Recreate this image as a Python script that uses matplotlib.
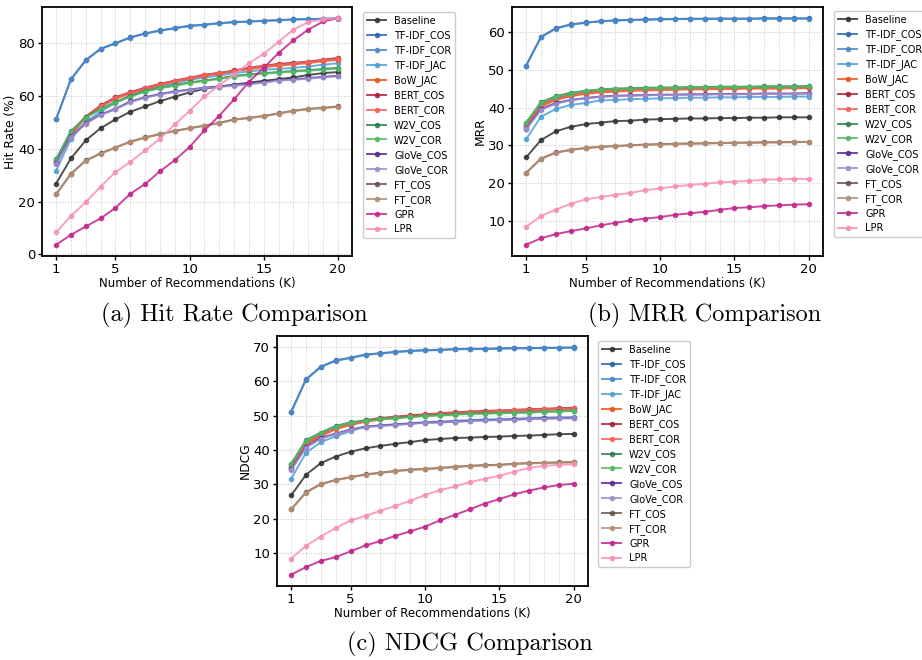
import matplotlib
matplotlib.use('Agg')
import matplotlib.pyplot as plt
from matplotlib.ticker import MultipleLocator, FixedLocator

# K values
k_values = list(range(1, 21))

method_names = ['Baseline', 'TF-IDF_COS', 'TF-IDF_COR', 'TF-IDF_JAC', 'BoW_JAC',
                'BERT_COS', 'BERT_COR', 'W2V_COS', 'W2V_COR', 'GloVe_COS',
                'GloVe_COR', 'FT_COS', 'FT_COR', 'GPR', 'LPR']
method_colors = ['#333333', '#2a66ae', '#4a88c8', '#4f9fd6', '#e8561c',
                 '#b01f35', '#f4655a', '#2e8050', '#55b865', '#5a2a96',
                 '#9890cc', '#6b5350', '#b58e72', '#c2268a', '#f78fb8']

# Hit Rate (%)
hr_baseline = [26.8, 36.3, 43.1, 47.7, 51.0, 53.9, 55.9, 57.9, 59.6, 61.2, 62.6, 63.4, 64.1, 64.9, 65.6, 66.2, 66.9, 67.8, 68.5, 68.9]
hr_tfidf_cos = [51.1, 66.2, 73.4, 77.7, 79.8, 82.0, 83.5, 84.6, 85.5, 86.4, 86.8, 87.4, 87.8, 88.0, 88.3, 88.5, 88.8, 88.9, 89.0, 89.2]
hr_tfidf_cor = [51.1, 66.1, 73.3, 77.6, 79.7, 81.9, 83.4, 84.5, 85.4, 86.3, 86.7, 87.3, 87.7, 87.9, 88.2, 88.5, 88.7, 88.9, 89.0, 89.1]
hr_tfidf_jac = [31.6, 43.7, 50.0, 54.0, 57.2, 60.0, 62.0, 63.5, 64.6, 66.0, 66.8, 67.6, 68.5, 69.1, 69.8, 70.1, 70.5, 71.0, 71.7, 72.2]
hr_bow_jac = [34.8, 45.2, 51.6, 55.8, 58.8, 60.8, 62.5, 64.0, 65.3, 66.4, 67.5, 68.3, 69.2, 70.0, 70.7, 71.3, 71.8, 72.3, 73.0, 73.5]
hr_bert_cos = [35.3, 45.8, 52.1, 56.3, 59.4, 61.3, 63.0, 64.4, 65.7, 66.8, 67.9, 68.6, 69.5, 70.5, 71.3, 72.0, 72.4, 72.8, 73.6, 74.2]
hr_bert_cor = [35.1, 45.6, 51.9, 56.0, 59.1, 61.0, 62.8, 64.2, 65.5, 66.6, 67.7, 68.5, 69.3, 70.2, 71.0, 71.6, 72.1, 72.6, 73.3, 73.8]
hr_w2v_cos = [36.0, 46.6, 51.9, 55.0, 57.6, 59.8, 61.7, 63.0, 63.9, 65.0, 65.7, 66.5, 67.5, 68.0, 68.5, 68.9, 69.3, 69.6, 70.1, 70.5]
hr_w2v_cor = [35.8, 46.4, 51.7, 54.8, 57.4, 59.6, 61.5, 62.8, 63.7, 64.8, 65.5, 66.3, 67.2, 67.8, 68.3, 68.7, 69.1, 69.4, 69.8, 70.2]
hr_glove_cos = [34.4, 44.6, 49.6, 52.9, 55.0, 57.8, 59.4, 60.6, 61.6, 62.3, 63.0, 63.5, 64.0, 64.5, 65.1, 65.9, 66.2, 66.6, 67.1, 67.5]
hr_glove_cor = [34.2, 44.3, 49.4, 52.7, 54.8, 57.5, 59.2, 60.4, 61.4, 62.1, 62.8, 63.3, 63.8, 64.3, 64.9, 65.7, 66.0, 66.4, 66.9, 67.3]
hr_ft_cos = [22.7, 30.5, 35.5, 38.2, 40.4, 42.6, 44.2, 45.5, 46.7, 47.7, 48.7, 49.7, 51.0, 51.6, 52.3, 53.3, 54.3, 55.0, 55.4, 55.9]
hr_ft_cor = [22.7, 30.4, 35.4, 38.1, 40.3, 42.5, 44.1, 45.4, 46.6, 47.6, 48.6, 49.6, 50.9, 51.5, 52.2, 53.2, 54.2, 54.9, 55.3, 55.7]
hr_gpr = [3.7, 7.4, 10.6, 13.6, 17.6, 22.9, 26.6, 31.4, 35.6, 40.6, 46.9, 52.4, 58.6, 65.2, 70.5, 76.1, 80.9, 84.9, 88.0, 89.2]
hr_lpr = [8.4, 14.5, 19.8, 25.6, 31.1, 34.9, 39.3, 43.7, 49.1, 54.2, 59.7, 63.9, 68.0, 72.2, 75.8, 80.4, 84.9, 87.8, 88.8, 89.2]

# MRR
mrr_baseline = [26.8, 31.4, 33.7, 34.9, 35.6, 36.0, 36.4, 36.5, 36.8, 36.9, 37.0, 37.1, 37.1, 37.2, 37.2, 37.3, 37.3, 37.4, 37.4, 37.4]
mrr_tfidf_cos = [51.1, 58.7, 61.0, 62.0, 62.5, 62.8, 63.1, 63.2, 63.3, 63.4, 63.4, 63.5, 63.5, 63.5, 63.5, 63.5, 63.6, 63.6, 63.6, 63.6]
mrr_tfidf_cor = [51.1, 58.6, 60.9, 61.9, 62.4, 62.8, 63.0, 63.1, 63.2, 63.3, 63.4, 63.4, 63.4, 63.5, 63.5, 63.5, 63.5, 63.5, 63.5, 63.5]
mrr_tfidf_jac = [31.6, 37.6, 39.6, 40.7, 41.2, 41.9, 42.0, 42.2, 42.3, 42.4, 42.5, 42.6, 42.6, 42.7, 42.7, 42.8, 42.8, 42.8, 42.9, 42.9]
mrr_bow_jac = [34.8, 40.2, 42.0, 43.0, 43.6, 44.0, 44.2, 44.4, 44.5, 44.6, 44.7, 44.8, 44.8, 44.9, 44.9, 45.0, 45.0, 45.0, 45.1, 45.1]
mrr_bert_cos = [35.3, 40.8, 42.5, 43.5, 44.1, 44.5, 44.7, 44.9, 45.0, 45.1, 45.1, 45.2, 45.2, 45.3, 45.3, 45.3, 45.4, 45.4, 45.4, 45.4]
mrr_bert_cor = [35.1, 40.6, 42.3, 43.3, 43.9, 44.3, 44.6, 44.8, 44.9, 45.0, 45.0, 45.1, 45.1, 45.2, 45.2, 45.2, 45.3, 45.3, 45.3, 45.3]
mrr_w2v_cos = [36.0, 41.4, 43.0, 43.9, 44.4, 44.8, 45.0, 45.1, 45.2, 45.3, 45.3, 45.4, 45.4, 45.5, 45.5, 45.5, 45.6, 45.6, 45.6, 45.7]
mrr_w2v_cor = [35.8, 41.2, 42.8, 43.7, 44.3, 44.7, 44.9, 45.0, 45.1, 45.2, 45.2, 45.3, 45.3, 45.4, 45.4, 45.4, 45.5, 45.5, 45.5, 45.6]
mrr_glove_cos = [34.4, 39.6, 41.2, 42.0, 42.5, 42.9, 43.1, 43.2, 43.3, 43.4, 43.4, 43.5, 43.5, 43.6, 43.6, 43.6, 43.7, 43.7, 43.7, 43.8]
mrr_glove_cor = [34.2, 39.4, 41.0, 41.9, 42.4, 42.8, 43.0, 43.1, 43.2, 43.3, 43.3, 43.4, 43.4, 43.5, 43.5, 43.5, 43.6, 43.6, 43.6, 43.7]
mrr_ft_cos = [22.7, 26.5, 28.1, 28.8, 29.3, 29.6, 29.8, 30.0, 30.2, 30.3, 30.4, 30.5, 30.5, 30.6, 30.7, 30.7, 30.8, 30.8, 30.9, 30.9]
mrr_ft_cor = [22.7, 26.4, 28.0, 28.8, 29.2, 29.6, 29.8, 30.0, 30.1, 30.2, 30.3, 30.4, 30.5, 30.6, 30.6, 30.7, 30.7, 30.8, 30.8, 30.9]
mrr_gpr = [3.7, 5.4, 6.5, 7.3, 8.0, 8.8, 9.5, 10.1, 10.6, 11.0, 11.6, 12.0, 12.4, 12.9, 13.4, 13.6, 13.9, 14.1, 14.3, 14.4]
mrr_lpr = [8.4, 11.3, 13.0, 14.5, 15.7, 16.3, 16.9, 17.4, 18.1, 18.6, 19.1, 19.5, 19.8, 20.2, 20.4, 20.6, 20.9, 21.0, 21.1, 21.1]

# NDCG
nd_baseline = [26.8, 32.8, 36.2, 38.1, 39.5, 40.5, 41.2, 41.8, 42.3, 42.9, 43.2, 43.5, 43.6, 43.8, 43.9, 44.1, 44.2, 44.4, 44.6, 44.7]
nd_tfidf_cos = [51.1, 60.6, 64.3, 66.1, 66.9, 67.8, 68.2, 68.6, 68.9, 69.1, 69.2, 69.4, 69.5, 69.5, 69.6, 69.7, 69.7, 69.8, 69.8, 69.9]
nd_tfidf_cor = [51.1, 60.5, 64.2, 66.0, 66.8, 67.7, 68.1, 68.5, 68.8, 69.0, 69.1, 69.3, 69.4, 69.4, 69.5, 69.6, 69.6, 69.7, 69.7, 69.8]
nd_tfidf_jac = [31.6, 39.2, 42.3, 44.0, 45.5, 46.8, 47.2, 47.5, 47.8, 48.1, 48.3, 48.5, 48.7, 48.9, 49.0, 49.1, 49.3, 49.4, 49.5, 49.6]
nd_bow_jac = [34.8, 41.4, 44.0, 46.1, 47.3, 48.2, 48.9, 49.3, 49.7, 50.0, 50.3, 50.5, 50.8, 51.0, 51.2, 51.4, 51.5, 51.7, 51.9, 52.0]
nd_bert_cos = [35.3, 42.1, 44.6, 46.6, 47.7, 48.7, 49.3, 49.7, 50.1, 50.4, 50.7, 51.0, 51.2, 51.4, 51.5, 51.7, 51.9, 52.0, 52.2, 52.3]
nd_bert_cor = [35.1, 41.9, 44.4, 46.4, 47.5, 48.5, 49.1, 49.5, 49.9, 50.2, 50.5, 50.8, 51.0, 51.2, 51.4, 51.6, 51.7, 51.9, 52.0, 52.1]
nd_w2v_cos = [36.0, 42.9, 45.1, 47.0, 48.1, 48.6, 49.1, 49.4, 49.7, 50.0, 50.2, 50.4, 50.6, 50.7, 50.8, 50.9, 51.0, 51.2, 51.3, 51.5]
nd_w2v_cor = [35.8, 42.7, 44.9, 46.8, 47.9, 48.5, 49.0, 49.3, 49.6, 49.9, 50.1, 50.3, 50.5, 50.6, 50.7, 50.8, 50.9, 51.1, 51.2, 51.4]
nd_glove_cos = [34.4, 40.9, 43.5, 44.8, 46.0, 46.8, 47.1, 47.4, 47.7, 48.0, 48.1, 48.3, 48.5, 48.7, 48.8, 48.9, 49.1, 49.2, 49.3, 49.3]
nd_glove_cor = [34.2, 40.7, 43.3, 44.6, 45.8, 46.7, 47.0, 47.3, 47.6, 47.9, 48.0, 48.2, 48.4, 48.6, 48.7, 48.8, 49.0, 49.1, 49.2, 49.2]
nd_ft_cos = [22.7, 27.7, 30.1, 31.3, 32.1, 32.9, 33.4, 33.9, 34.3, 34.5, 34.8, 35.1, 35.4, 35.6, 35.7, 36.0, 36.2, 36.3, 36.4, 36.5]
nd_ft_cor = [22.7, 27.6, 30.0, 31.2, 32.0, 32.8, 33.3, 33.8, 34.2, 34.4, 34.7, 35.0, 35.3, 35.5, 35.6, 35.9, 36.1, 36.2, 36.3, 36.4]
nd_gpr = [3.7, 5.9, 7.7, 8.8, 10.5, 12.2, 13.5, 15.0, 16.3, 17.7, 19.5, 21.1, 22.7, 24.4, 25.7, 27.1, 28.2, 29.1, 29.8, 30.2]
nd_lpr = [8.4, 12.1, 14.8, 17.3, 19.5, 20.8, 22.3, 23.7, 25.2, 26.9, 28.3, 29.4, 30.6, 31.6, 32.5, 33.7, 34.8, 35.4, 35.7, 35.8]

hr_series = [hr_baseline, hr_tfidf_cos, hr_tfidf_cor, hr_tfidf_jac, hr_bow_jac,
             hr_bert_cos, hr_bert_cor, hr_w2v_cos, hr_w2v_cor, hr_glove_cos,
             hr_glove_cor, hr_ft_cos, hr_ft_cor, hr_gpr, hr_lpr]
mrr_series = [mrr_baseline, mrr_tfidf_cos, mrr_tfidf_cor, mrr_tfidf_jac, mrr_bow_jac,
              mrr_bert_cos, mrr_bert_cor, mrr_w2v_cos, mrr_w2v_cor, mrr_glove_cos,
              mrr_glove_cor, mrr_ft_cos, mrr_ft_cor, mrr_gpr, mrr_lpr]
nd_series = [nd_baseline, nd_tfidf_cos, nd_tfidf_cor, nd_tfidf_jac, nd_bow_jac,
             nd_bert_cos, nd_bert_cor, nd_w2v_cos, nd_w2v_cor, nd_glove_cos,
             nd_glove_cor, nd_ft_cos, nd_ft_cor, nd_gpr, nd_lpr]

W, H = 922, 660
fig = plt.figure(figsize=(W / 100, H / 100), dpi=100)


def px_axes(left, top, right, bottom):
    return fig.add_axes([left / W, 1 - bottom / H, (right - left) / W, (bottom - top) / H])


def draw_panel(ax, series, ylabel, leg_x, leg_y):
    for name, color, vals in zip(method_names, method_colors, series):
        ax.plot(k_values, vals, color=color, marker='o', markersize=3,
                linewidth=1.4, alpha=0.85, label=name)
    ax.xaxis.set_major_locator(FixedLocator([1, 5, 10, 15, 20]))
    ax.xaxis.set_minor_locator(MultipleLocator(1))
    ax.grid(True, which='both', linestyle=':', color='#c8c8c8', linewidth=0.7)
    ax.tick_params(axis='both', which='major', labelsize=9.5, length=3, width=1, pad=2)
    ax.tick_params(axis='x', which='minor', length=0)
    for sp in ax.spines.values():
        sp.set_linewidth(1.3)
    ax.set_xlabel('Number of Recommendations (K)', fontsize=8.5, labelpad=1)
    ax.set_ylabel(ylabel, fontsize=8.8, labelpad=1)
    ax.legend(loc='upper left', bbox_to_anchor=(leg_x / W, 1 - leg_y / H),
              bbox_transform=fig.transFigure, borderaxespad=0, fontsize=7,
              labelspacing=0.42, handlelength=2.0, fancybox=True, framealpha=1)


ax1 = px_axes(42, 7, 352, 256)
draw_panel(ax1, hr_series, 'Hit Rate (%)', 363, 12)

ax2 = px_axes(512, 7, 823, 256)
draw_panel(ax2, mrr_series, 'MRR', 834, 11)

ax3 = px_axes(277, 336, 588, 586)
draw_panel(ax3, nd_series, 'NDCG', 598, 341)

# captions
fig.text(234 / W, 1 - 315 / H, '(a) Hit Rate Comparison', family='cmr10',
         fontsize=17.5, ha='center', va='center')
fig.text(705 / W, 1 - 315 / H, '(b) MRR Comparison', family='cmr10',
         fontsize=17.5, ha='center', va='center')
fig.text(470 / W, 1 - 644 / H, '(c) NDCG Comparison', family='cmr10',
         fontsize=17.5, ha='center', va='center')

fig.savefig('out.png', dpi=100)
